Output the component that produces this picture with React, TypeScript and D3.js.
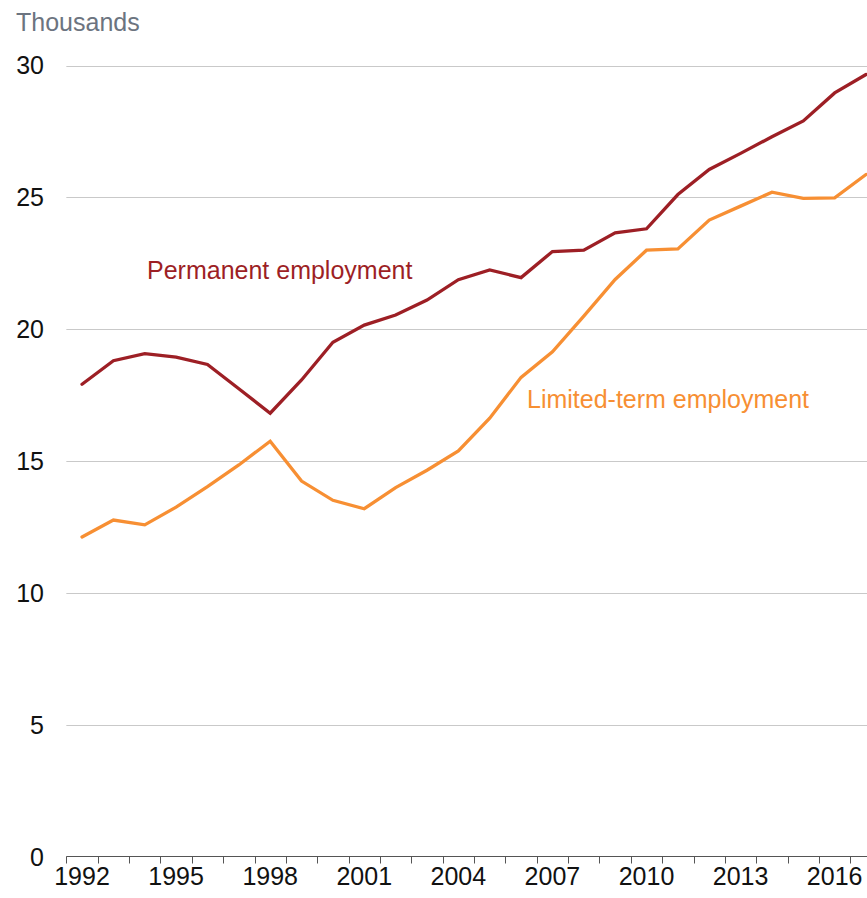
import React from "react";
import * as d3 from "d3";

const years: number[] = d3.range(1992, 2018);
const permanent: number[] = [17.92, 18.81, 19.08, 18.95, 18.67, 17.75, 16.82, 18.08, 19.51, 20.16, 20.54, 21.11, 21.88, 22.25, 21.96, 22.95, 23.0, 23.66, 23.81, 25.11, 26.06, 26.67, 27.3, 27.9, 28.96, 29.66];
const limitedTerm: number[] = [12.13, 12.77, 12.59, 13.26, 14.04, 14.86, 15.76, 14.25, 13.52, 13.2, 14.0, 14.66, 15.39, 16.63, 18.18, 19.15, 20.5, 21.89, 23.0, 23.05, 24.14, 24.67, 25.2, 24.96, 24.98, 25.87];
const yTicks: number[] = [0, 5, 10, 15, 20, 25, 30];
const xLabelYears: number[] = [1992, 1995, 1998, 2001, 2004, 2007, 2010, 2013, 2016];
const unitLabel = "Thousands";
const permanentLabel = "Permanent employment";
const limitedLabel = "Limited-term employment";

const W = 867;
const H = 898;
const FONT = "'Liberation Sans', Arial, Helvetica, sans-serif";
const RED = "#9d1f25";
const ORANGE = "#f78f33";

export default function App() {
  const step = 31.36;
  const x0 = 66.35;
  const x = d3
    .scaleBand<number>()
    .domain(years)
    .range([x0, x0 + step * years.length])
    .padding(0);
  const y = d3.scaleLinear().domain([0, 30]).range([857, 65.5]);
  const cx = (yr: number) => (x(yr) as number) + x.bandwidth() / 2;

  const line = d3
    .line<number>()
    .x((_, i) => cx(years[i]))
    .y((d) => y(d));

  const boundaries = [...years.map((yr) => x(yr) as number), x.range()[1]];
  const axisY = Math.round(y(0)) - 0.5;

  return (
    <svg
      width={W}
      height={H}
      style={{ position: "absolute", left: 0, top: 0, background: "#fff" }}
      fontFamily={FONT}
    >
      <text x={16} y={31} fontSize={25} fill="#6c7480">
        {unitLabel}
      </text>
      {yTicks.map((t) => (
        <g key={t}>
          {t !== 0 && (
            <line
              x1={x0}
              x2={W}
              y1={Math.round(y(t)) + 0.5}
              y2={Math.round(y(t)) + 0.5}
              stroke="#c9c9c9"
              strokeWidth={1}
            />
          )}
          <text
            x={44}
            y={y(t) + 8.8}
            fontSize={25}
            textAnchor="end"
            fill="#111"
          >
            {t}
          </text>
        </g>
      ))}
      <line x1={x0} x2={W} y1={axisY} y2={axisY} stroke="#555" strokeWidth={1} />
      {boundaries.map((b, i) => (
        <line
          key={i}
          x1={Math.round(b) + 0.5}
          x2={Math.round(b) + 0.5}
          y1={axisY}
          y2={axisY + 7}
          stroke="#555"
          strokeWidth={1}
        />
      ))}
      {xLabelYears.map((yr) => (
        <text
          key={yr}
          x={cx(yr)}
          y={885}
          fontSize={25}
          textAnchor="middle"
          fill="#111"
        >
          {yr}
        </text>
      ))}
      <path
        d={line(limitedTerm) || ""}
        fill="none"
        stroke={ORANGE}
        strokeWidth={3.3}
        strokeLinejoin="miter"
        strokeLinecap="round"
      />
      <path
        d={line(permanent) || ""}
        fill="none"
        stroke={RED}
        strokeWidth={3.3}
        strokeLinejoin="miter"
        strokeLinecap="round"
      />
      <text x={147} y={279} fontSize={25} fill={RED}>
        {permanentLabel}
      </text>
      <text x={527} y={408} fontSize={25} fill={ORANGE}>
        {limitedLabel}
      </text>
    </svg>
  );
}
